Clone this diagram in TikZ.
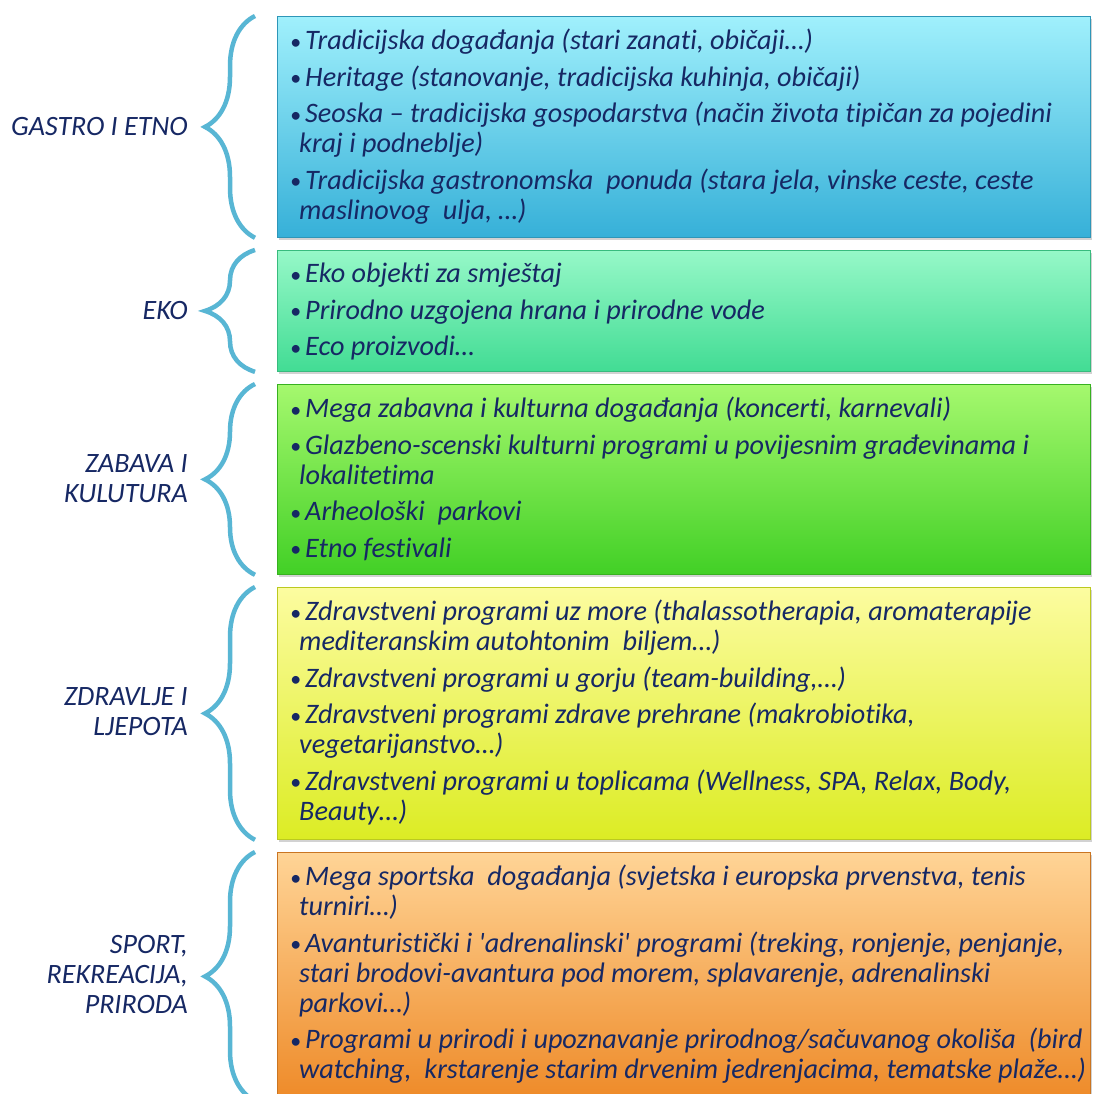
\documentclass[tikz,border=0pt]{standalone}
\usepackage{fontspec}
\setmainfont{Carlito}[Ligatures={TeX,NoCommon}]
\usetikzlibrary{positioning, decorations.pathreplacing, shadows}
\definecolor{TX}{RGB}{22,40,100}
\definecolor{BR}{RGB}{88,182,212}
\definecolor{CT}{RGB}{160,240,252}
\definecolor{CB}{RGB}{54,176,216}
\definecolor{MT}{RGB}{150,248,200}
\definecolor{MB}{RGB}{66,220,148}
\definecolor{GT}{RGB}{165,248,110}
\definecolor{GB}{RGB}{66,208,38}
\definecolor{YT}{RGB}{252,252,160}
\definecolor{YB}{RGB}{220,236,36}
\definecolor{OT}{RGB}{255,212,150}
\definecolor{OB}{RGB}{238,138,40}
\newcommand{\itm}{\makebox[15pt][l]{\raisebox{0.02em}{\fontsize{22}{22}\selectfont\textbullet}}}
\newcommand{\cnt}{\hspace*{9pt}}

\begin{document}
\begin{tikzpicture}[x=1pt, y=-1pt,
  box/.style args={#1/#2}{draw=#2!85!black, line width=0.8pt, top color=#1, bottom color=#2,
              anchor=north west, minimum width=813pt, inner sep=0pt,
              drop shadow={shadow xshift=2pt, shadow yshift=-3pt, opacity=0.35}},
  txt/.style={anchor=north west, align=left, inner sep=0pt, text=TX,
              font=\fontsize{28.2}{30}\selectfont\itshape},
  lbl/.style={anchor=east, align=right, inner sep=0pt, text=TX,
              font=\fontsize{28}{30}\selectfont\itshape},
  brc/.style={draw=BR, line width=4.5pt, decorate,
              decoration={brace, amplitude=50pt}}
]
\useasboundingbox (0,0) rectangle (1098,1093);
\fill[white] (0,0) rectangle (1098,1093);

% Boxes
\node[box=CT/CB, minimum height=221pt] (gastro) at (277,16) {};
\node[box=MT/MB, minimum height=121pt] (eko)    at (277,250) {};
\node[box=GT/GB, minimum height=190pt] (zabava) at (277,384) {};
\node[box=YT/YB, minimum height=252pt] (zdrav)  at (277,587) {};
\node[box=OT/OB, minimum height=248pt] (sport)  at (277,852) {};

% Braces
\foreach \b in {gastro, eko, zabava, zdrav, sport}
  \draw[brc] ([xshift=-22pt]\b.south west) -- ([xshift=-22pt]\b.north west);

% Labels
\node[lbl] (gastrolbl) at (188,127) {GASTRO I ETNO};
\node[lbl] (ekolbl)    at (188,311) {EKO};
\node[lbl] (zabavalbl) at (188,479) {ZABAVA I\\KULUTURA};
\node[lbl] (zdravlbl)  at (188,712) {ZDRAVLJE I\\LJEPOTA};
\node[lbl] (sportlbl)  at (188,974) {SPORT,\\REKREACIJA,\\PRIRODA};

% Box texts
\node[txt] (gastrotxt) at ([xshift=13pt,yshift=-13pt]gastro.north west) {%
  \itm Tradicijska događanja (stari zanati, običaji…)\\[6.5pt]
  \itm Heritage (stanovanje, tradicijska kuhinja, običaji)\\[6.5pt]
  \itm Seoska – tradicijska gospodarstva (način života tipičan za pojedini\\
  \cnt kraj i podneblje)\\[6.5pt]
  \itm Tradicijska gastronomska\ \ ponuda (stara jela, vinske ceste, ceste\\
  \cnt maslinovog\ \ ulja, …)};
\node[txt] (ekotxt) at ([xshift=13pt,yshift=-13pt]eko.north west) {%
  \itm Eko objekti za smještaj\\[6.5pt]
  \itm Prirodno uzgojena hrana i prirodne vode\\[6.5pt]
  \itm Eco proizvodi…};
\node[txt] (zabavatxt) at ([xshift=13pt,yshift=-13pt]zabava.north west) {%
  \itm Mega zabavna i kulturna događanja (koncerti, karnevali)\\[6.5pt]
  \itm Glazbeno-scenski kulturni programi u povijesnim građevinama i\\
  \cnt lokalitetima\\[6.5pt]
  \itm Arheološki\ \ parkovi\\[6.5pt]
  \itm Etno festivali};
\node[txt] (zdravtxt) at ([xshift=13pt,yshift=-13pt]zdrav.north west) {%
  \itm Zdravstveni programi uz more (thalassotherapia, aromaterapije\\
  \cnt mediteranskim autohtonim\ \ biljem…)\\[6.5pt]
  \itm Zdravstveni programi u gorju (team-building,…)\\[6.5pt]
  \itm Zdravstveni programi zdrave prehrane (makrobiotika,\\
  \cnt vegetarijanstvo…)\\[6.5pt]
  \itm Zdravstveni programi u toplicama (Wellness, SPA, Relax, Body,\\
  \cnt Beauty…)};
\node[txt] (sporttxt) at ([xshift=13pt,yshift=-13pt]sport.north west) {%
  \itm Mega sportska\ \ događanja (svjetska i europska prvenstva, tenis\\
  \cnt turniri…)\\[6.5pt]
  \itm Avanturistički i \textquotesingle adrenalinski\textquotesingle\ programi (treking, ronjenje, penjanje,\\
  \cnt stari brodovi-avantura pod morem, splavarenje, adrenalinski\\
  \cnt parkovi…)\\[6.5pt]
  \itm Programi u prirodi i upoznavanje prirodnog/sačuvanog okoliša\ \ (bird\\
  \cnt watching,\ \ krstarenje starim drvenim jedrenjacima, tematske plaže…)};
\end{tikzpicture}
\end{document}
